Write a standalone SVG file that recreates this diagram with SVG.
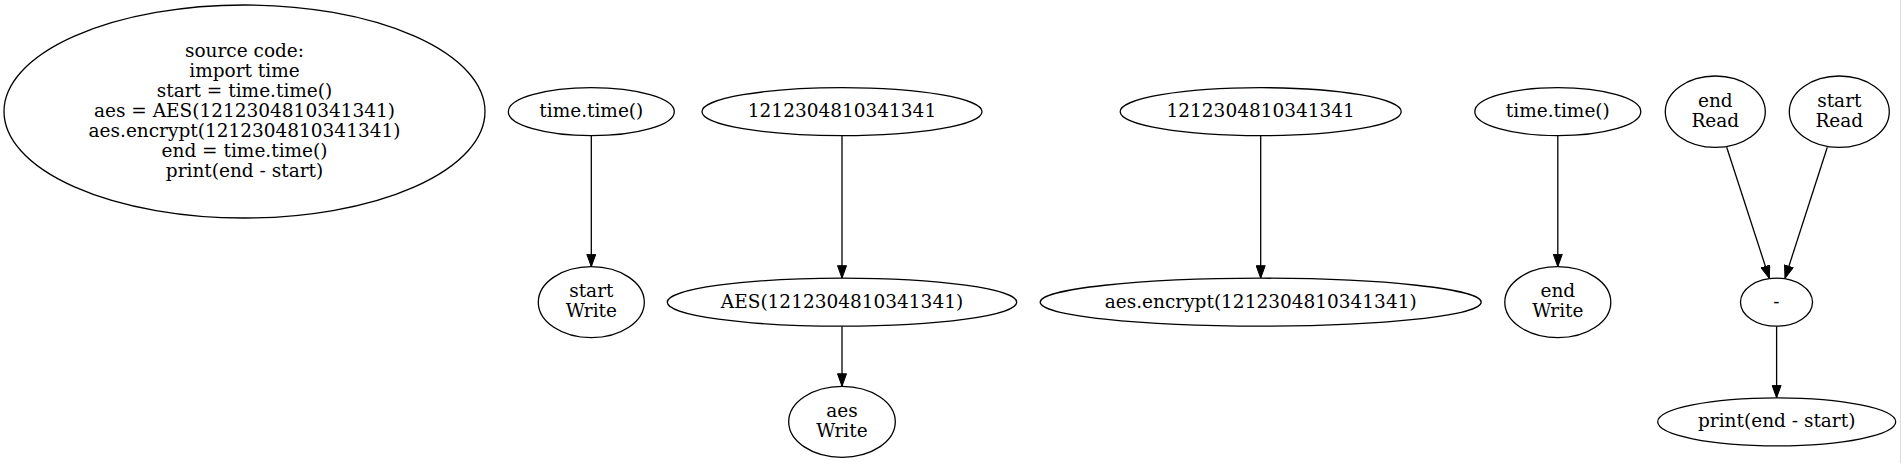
<svg xmlns="http://www.w3.org/2000/svg" width="1901" height="463" viewBox="0 0 1901 463">
<style>
  .node ellipse { fill: #ffffff; stroke: #000000; stroke-width: 1.3; }
  .node text { font-family: "DejaVu Serif", serif; font-size: 18.5px; fill: #000000; text-anchor: middle; }
  .edges line { stroke: #000000; stroke-width: 1.3; marker-end: url(#arrow); }
</style>
<defs>
  <marker id="arrow" markerUnits="userSpaceOnUse" viewBox="0 0 13 10" refX="13" refY="5" markerWidth="13" markerHeight="10" orient="auto">
    <path d="M0.5,0.5 L13,5 L0.5,9.5 Z" fill="#000000" stroke="#000000" stroke-width="1"/>
  </marker>
</defs>
<rect x="0" y="0" width="1901" height="463" fill="#ffffff"/>
<rect x="1900" y="0" width="1" height="463" fill="#d9d9d9"/>

<g class="edges" id="edges">
  <line x1="591.3" y1="135.7" x2="591.3" y2="266.7"/>
  <line x1="842" y1="135.7" x2="842" y2="278.2"/>
  <line x1="842" y1="326.2" x2="842" y2="386.3"/>
  <line x1="1260.7" y1="135.7" x2="1260.7" y2="278.2"/>
  <line x1="1557.8" y1="135.7" x2="1557.8" y2="266.7"/>
  <line x1="1726.7" y1="147.3" x2="1769.3" y2="278.3"/>
  <line x1="1827.3" y1="147.3" x2="1785" y2="278.3"/>
  <line x1="1776.6" y1="326.2" x2="1776.6" y2="397.8"/>
</g>

<g class="node" id="node-source">
  <ellipse cx="244.5" cy="111.5" rx="240.5" ry="106.5"/>
  <text x="244.5" y="57.1">source code:</text>
  <text x="244.5" y="77.1">import time</text>
  <text x="244.5" y="97.1">start = time.time()</text>
  <text x="244.5" y="117.1">aes = AES(1212304810341341)</text>
  <text x="244.5" y="137.1">aes.encrypt(1212304810341341)</text>
  <text x="244.5" y="157.1">end = time.time()</text>
  <text x="244.5" y="177.1">print(end - start)</text>
</g>

<g class="node" id="node-time1">
  <ellipse cx="591.3" cy="111.7" rx="83" ry="24"/>
  <text x="591.3" y="117.3">time.time()</text>
</g>
<g class="node" id="node-start-write">
  <ellipse cx="591.3" cy="302.2" rx="53" ry="35.5"/>
  <text x="591.3" y="297.3">start</text>
  <text x="591.3" y="317.3">Write</text>
</g>

<g class="node" id="node-num1">
  <ellipse cx="842" cy="111.7" rx="140" ry="24"/>
  <text x="842" y="117.3">1212304810341341</text>
</g>
<g class="node" id="node-aes-ctor">
  <ellipse cx="842" cy="302.2" rx="174.7" ry="24"/>
  <text x="842" y="307.8">AES(1212304810341341)</text>
</g>
<g class="node" id="node-aes-write">
  <ellipse cx="842" cy="421.8" rx="53.3" ry="35.5"/>
  <text x="842" y="416.9">aes</text>
  <text x="842" y="436.9">Write</text>
</g>

<g class="node" id="node-num2">
  <ellipse cx="1260.7" cy="111.7" rx="140.5" ry="24"/>
  <text x="1260.7" y="117.3">1212304810341341</text>
</g>
<g class="node" id="node-encrypt">
  <ellipse cx="1260.7" cy="302.2" rx="220.5" ry="24"/>
  <text x="1260.7" y="307.8">aes.encrypt(1212304810341341)</text>
</g>

<g class="node" id="node-time2">
  <ellipse cx="1557.8" cy="111.7" rx="83" ry="24"/>
  <text x="1557.8" y="117.3">time.time()</text>
</g>
<g class="node" id="node-end-write">
  <ellipse cx="1557.8" cy="302.2" rx="53" ry="35.5"/>
  <text x="1557.8" y="297.3">end</text>
  <text x="1557.8" y="317.3">Write</text>
</g>

<g class="node" id="node-end-read">
  <ellipse cx="1715.3" cy="111.7" rx="50" ry="35.7"/>
  <text x="1715.3" y="106.8">end</text>
  <text x="1715.3" y="126.8">Read</text>
</g>
<g class="node" id="node-start-read">
  <ellipse cx="1839.3" cy="111.7" rx="50" ry="35.7"/>
  <text x="1839.3" y="106.8">start</text>
  <text x="1839.3" y="126.8">Read</text>
</g>
<g class="node" id="node-minus">
  <ellipse cx="1776.5" cy="302.2" rx="36" ry="24"/>
  <text x="1776.5" y="307.8">-</text>
</g>
<g class="node" id="node-print">
  <ellipse cx="1776.7" cy="421.8" rx="119" ry="24"/>
  <text x="1776.7" y="427.4">print(end - start)</text>
</g>
</svg>
